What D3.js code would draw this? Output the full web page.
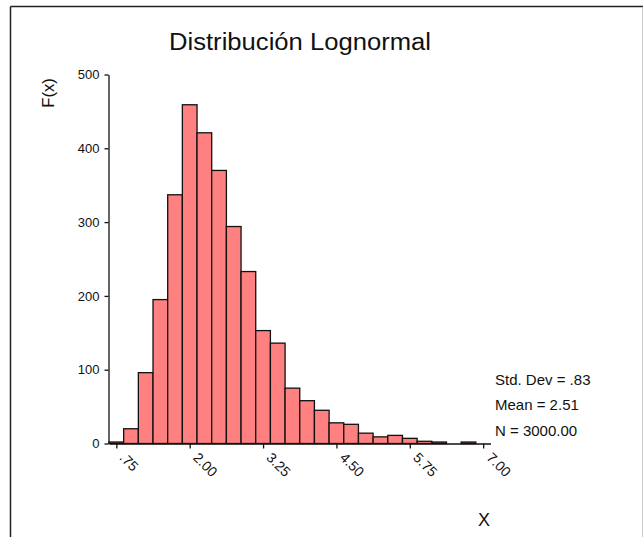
<!DOCTYPE html>
<html>
<head>
<meta charset="utf-8">
<script src="https://cdn.jsdelivr.net/npm/d3@7"></script>
<style>
  html, body { margin: 0; padding: 0; background: #fff; }
  svg { display: block; font-family: Arial, "Liberation Sans", sans-serif; }
</style>
</head>
<body>
<svg id="chart" width="643" height="537"></svg>
<script>
// Data (bin centers, counts)
const binCenters = [0.75, 1.00, 1.25, 1.50, 1.75, 2.00, 2.25, 2.50, 2.75, 3.00, 3.25, 3.50, 3.75,
                    4.00, 4.25, 4.50, 4.75, 5.00, 5.25, 5.50, 5.75, 6.00, 6.25, 6.50, 6.75];
const counts = [2, 20, 96, 195, 337, 459, 421, 370, 294, 233, 153, 136, 75,
                58, 45, 28, 26, 14, 9, 11, 7, 3, 2, 0, 2];
const binWidth = 0.25;
const xTicks = [0.75, 2.00, 3.25, 4.50, 5.75, 7.00];
const xTickLabels = [".75", "2.00", "3.25", "4.50", "5.75", "7.00"];
const yTicks = [0, 100, 200, 300, 400, 500];
const statLines = ["Std. Dev = .83", "Mean = 2.51", "N = 3000.00"];
const title = "Distribución Lognormal";

const svg = d3.select("#chart");

// frame
svg.append("line").attr("x1", 10.5).attr("y1", 6.5).attr("x2", 643).attr("y2", 6.5)
  .attr("stroke", "#222").attr("stroke-width", 1.5);
svg.append("line").attr("x1", 10.5).attr("y1", 6.5).attr("x2", 10.5).attr("y2", 537)
  .attr("stroke", "#222").attr("stroke-width", 1.5);
svg.append("line").attr("x1", 642.5).attr("y1", 7).attr("x2", 642.5).attr("y2", 537)
  .attr("stroke", "#ccc").attr("stroke-width", 1);

const x = d3.scaleLinear().domain([0.625, 7.125]).range([109, 490.5]);
const y = d3.scaleLinear().domain([0, 500]).range([443.5, 74.5]);

// bars
svg.append("g").selectAll("rect")
  .data(binCenters.map((c, i) => ({c, v: counts[i]})))
  .join("rect")
  .attr("x", d => x(d.c - binWidth / 2))
  .attr("width", d => x(d.c + binWidth / 2) - x(d.c - binWidth / 2))
  .attr("y", d => y(d.v))
  .attr("height", d => y(0) - y(d.v))
  .attr("fill", "#FF8080")
  .attr("stroke", "#111")
  .attr("stroke-width", 1.3);

// y axis
const yAxis = d3.axisLeft(y).tickValues(yTicks).tickSize(4).tickPadding(5).tickSizeOuter(0);
const gy = svg.append("g").attr("transform", "translate(108.5,0)").call(yAxis);
gy.select(".domain").attr("stroke", "#111").attr("stroke-width", 1.3);
gy.selectAll(".tick line").attr("stroke", "#111").attr("stroke-width", 1.3);
gy.selectAll(".tick text").attr("font-size", 13).attr("fill", "#111")
  .attr("font-family", "Arial, 'Liberation Sans', sans-serif");

// x axis
const xAxis = d3.axisBottom(x).tickValues(xTicks).tickFormat((d, i) => xTickLabels[i])
  .tickSize(5).tickSizeOuter(0);
const gx = svg.append("g").attr("transform", "translate(0,443.5)").call(xAxis);
gx.select(".domain").attr("stroke", "#111").attr("stroke-width", 1.3);
gx.selectAll(".tick line").attr("stroke", "#111").attr("stroke-width", 1.3);
gx.selectAll(".tick text")
  .attr("font-size", 14).attr("fill", "#111")
  .attr("font-family", "Arial, 'Liberation Sans', sans-serif")
  .attr("text-anchor", "start")
  .attr("y", 0).attr("dy", 0)
  .attr("transform", "translate(2,15) rotate(45)");

// title
svg.append("text").attr("x", 169).attr("y", 49.5)
  .attr("font-size", 23.5).attr("fill", "#111")
  .attr("textLength", 262).attr("lengthAdjust", "spacingAndGlyphs")
  .text(title);

// y label
svg.append("text").attr("transform", "translate(54,93) rotate(-90)")
  .attr("text-anchor", "middle").attr("font-size", 16.5).attr("fill", "#111").text("F(x)");

// x label
svg.append("text").attr("x", 484).attr("y", 525.5)
  .attr("text-anchor", "middle").attr("font-size", 18).attr("fill", "#111").text("X");

// stats
svg.append("g").selectAll("text").data(statLines).join("text")
  .attr("x", 495).attr("y", (d, i) => 384.5 + i * 25.5)
  .attr("font-size", 15).attr("fill", "#111").text(d => d);
</script>
</body>
</html>
